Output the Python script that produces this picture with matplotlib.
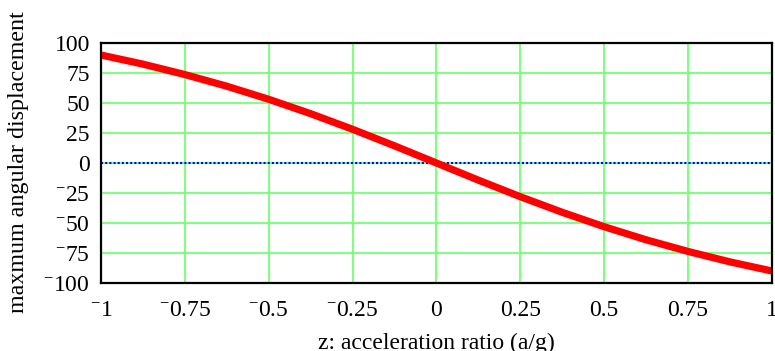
import matplotlib
matplotlib.use('Agg')
import matplotlib.pyplot as plt
from matplotlib.ticker import FixedLocator

## Data
z_vals = [-1, -0.875, -0.75, -0.625, -0.5, -0.375, -0.25, -0.125, 0,
          0.125, 0.25, 0.375, 0.5, 0.625, 0.75, 0.875, 1]
theta_vals = [90, 82.4, 73.7, 64.0, 53.1, 41.1, 28.1, 14.3, 0,
              -14.3, -28.1, -41.1, -53.1, -64.0, -73.7, -82.4, -90]
x_ticks = [-1, -0.75, -0.5, -0.25, 0, 0.25, 0.5, 0.75, 1]
y_ticks = [-100, -75, -50, -25, 0, 25, 50, 75, 100]

plt.rcParams['font.family'] = ['Liberation Serif', 'DejaVu Serif']
plt.rcParams['mathtext.fontset'] = 'custom'
plt.rcParams['mathtext.rm'] = 'Liberation Serif'

def mc_label(v):
    ## Mathcad style raised minus
    s = '{:g}'.format(abs(v))
    if v < 0:
        return r'$\mathregular{^{-}}$' + s
    return s

fig = plt.figure(figsize=(7.75, 3.51), dpi=100)
ax = fig.add_axes([0.1303, 0.1937, 0.8658, 0.6838])

ax.plot(z_vals, theta_vals, color='#ff0000', lw=5.2, solid_capstyle='butt', zorder=4)
ax.axhline(0, color='#0000ff', lw=1.5, ls=(0, (1, 1)), zorder=3)

ax.set_xlim(-1, 1)
ax.set_ylim(-100, 100)
ax.xaxis.set_major_locator(FixedLocator(x_ticks))
ax.yaxis.set_major_locator(FixedLocator(y_ticks))
ax.set_xticklabels([mc_label(v) for v in x_ticks])
ax.set_yticklabels([mc_label(v) for v in y_ticks])
ax.grid(color='#80ff80', lw=1.5, zorder=1)
ax.set_axisbelow(True)
ax.tick_params(axis='x', length=0, labelsize=17, pad=12)
ax.tick_params(axis='y', length=0, labelsize=17, pad=8)
for s in ax.spines.values():
    s.set_linewidth(1.6)
    s.set_zorder(5)

ax.set_xlabel('z: acceleration ratio (a/g)', fontsize=17, labelpad=9)
ax.set_ylabel('maxmum angular displacement', fontsize=17.3)
ax.yaxis.set_label_coords(-0.107, 0.505)

plt.savefig('out.png', dpi=100)
